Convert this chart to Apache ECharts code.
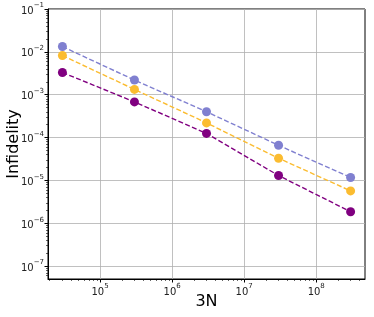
<!DOCTYPE html>
<html><head><meta charset="utf-8">
<script src="https://cdn.jsdelivr.net/npm/echarts@6/dist/echarts.min.js"></script>
<style>html,body{margin:0;padding:0;background:#fff}#c{width:374px;height:317px}</style>
</head><body><div id="c"></div>
<script>
const nValues = [3e4, 3e5, 3e6, 3e7, 3e8];
const blueSeries = [0.0133, 0.0022, 4.0e-4, 6.6e-5, 1.17e-5];
const yellowSeries = [0.0082, 0.00133, 2.2e-4, 3.3e-5, 5.7e-6];
const purpleSeries = [0.0033, 6.8e-4, 1.25e-4, 1.3e-5, 1.86e-6];
const xTickExps = [5, 6, 7, 8];
const yTickExps = [-7, -6, -5, -4, -3, -2, -1];

const L = Math.log10;
function minors(lo, hi) {
  const out = [];
  for (let e = lo; e <= hi; e++) for (let k = 2; k <= 9; k++) out.push(L(k) + e);
  return out;
}
const xMin = 4.277, xMax = 8.677, yMin = -7.3, yMax = -1;
const xMinor = minors(4, 8).filter(v => v > xMin && v < xMax);
const yMinor = minors(-8, -2).filter(v => v > yMin && v < yMax);
const rich = {
  b: {fontSize: 10, color: '#222', fontFamily: 'DejaVu Sans', verticalAlign: 'bottom', lineHeight: 14},
  s: {fontSize: 7, color: '#222', fontFamily: 'DejaVu Sans', verticalAlign: 'top', lineHeight: 14}
};
const fmt = v => '{b|10}{s|' + String(Math.round(v)).replace('-', '\u2212') + '}';

const mk = (vals, color, name) => ({
  name, type: 'line', xAxisIndex: 0, yAxisIndex: 0,
  data: nValues.map((x, i) => [L(x), L(vals[i])]),
  symbol: 'circle', symbolSize: 9,
  itemStyle: {color},
  lineStyle: {color, width: 1.4, type: [5, 2.4]},
  emphasis: {disabled: true}, z: 5
});

const chart = echarts.init(document.getElementById('c'), null, {renderer: 'canvas'});
chart.setOption({
  animation: false,
  grid: {left: 48, right: 9, top: 9, bottom: 38, containLabel: false, outerBoundsMode: 'none',
         show: true, borderColor: '#000', borderWidth: 1, backgroundColor: 'transparent'},
  xAxis: [{
    type: 'value', min: xMin, max: xMax,
    name: '3N', nameLocation: 'middle', nameGap: 15, nameMoveOverlap: false,
    nameTextStyle: {fontSize: 16, color: '#000', fontFamily: 'DejaVu Sans'},
    axisLine: {show: true, lineStyle: {color: '#000', width: 1}},
    axisTick: {show: true, customValues: xTickExps, length: 3.5, lineStyle: {color: '#000'}},
    axisLabel: {customValues: xTickExps, formatter: fmt, rich, margin: 4},
    splitLine: {show: true, lineStyle: {color: '#b0b0b0', width: 0.8}}
  }, {
    type: 'value', min: xMin, max: xMax, position: 'bottom',
    axisLine: {show: false},
    axisTick: {show: true, customValues: xMinor, length: 2, lineStyle: {color: '#000', width: 0.6}},
    axisLabel: {show: false}, splitLine: {show: false}
  }],
  yAxis: [{
    type: 'value', min: yMin, max: yMax,
    name: 'Infidelity', nameLocation: 'middle', nameGap: 26, nameRotate: 90, nameMoveOverlap: false,
    nameTextStyle: {fontSize: 16, color: '#000', fontFamily: 'DejaVu Sans'},
    axisLine: {show: true, lineStyle: {color: '#000', width: 1}},
    axisTick: {show: true, customValues: yTickExps, length: 3.5, lineStyle: {color: '#000'}},
    axisLabel: {customValues: yTickExps, formatter: fmt, rich, margin: 4},
    splitLine: {show: true, lineStyle: {color: '#b0b0b0', width: 0.8}}
  }, {
    type: 'value', min: yMin, max: yMax, position: 'left',
    axisLine: {show: false},
    axisTick: {show: true, customValues: yMinor, length: 2, lineStyle: {color: '#000', width: 0.6}},
    axisLabel: {show: false}, splitLine: {show: false}
  }],
  series: [
    mk(purpleSeries, '#800080', 'purple'),
    mk(yellowSeries, '#fbbc30', 'yellow'),
    mk(blueSeries, '#8080d0', 'blue')
  ]
});
</script></body></html>
